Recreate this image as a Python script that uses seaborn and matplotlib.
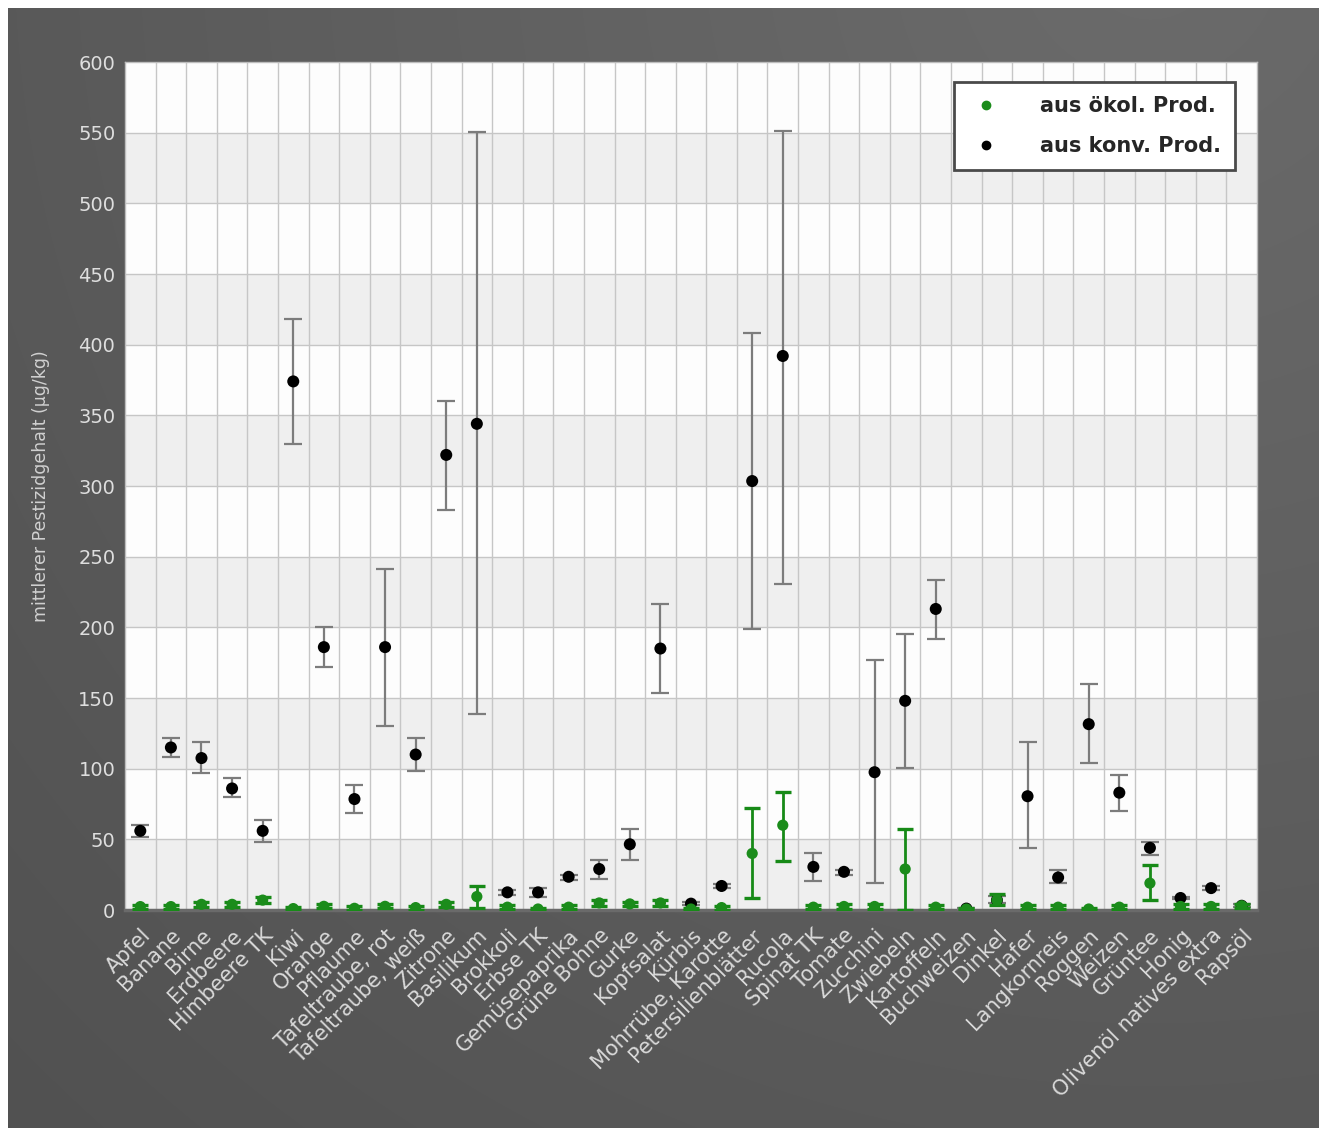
import numpy as np
import pandas as pd
import matplotlib
matplotlib.use("Agg")
import matplotlib.pyplot as plt
import matplotlib.transforms as mtransforms
from matplotlib.lines import Line2D
import seaborn as sns

# Produkte
produkte = [
    "Apfel", "Banane", "Birne", "Erdbeere", "Himbeere TK", "Kiwi", "Orange",
    "Pflaume", "Tafeltraube, rot", "Tafeltraube, weiß", "Zitrone", "Basilikum",
    "Brokkoli", "Erbse TK", "Gemüsepaprika", "Grüne Bohne", "Gurke", "Kopfsalat",
    "Kürbis", "Mohrrübe, Karotte", "Petersilienblätter", "Rucola", "Spinat TK",
    "Tomate", "Zucchini", "Zwiebeln", "Kartoffeln", "Buchweizen", "Dinkel",
    "Hafer", "Langkornreis", "Roggen", "Weizen", "Grüntee", "Honig",
    "Olivenöl natives extra", "Rapsöl",
]

# konventionelle Produktion: Mittelwert, untere / obere Grenze (µg/kg)
konv_mittel = [56, 115, 107.5, 86, 56, 374, 186, 78.5, 186, 110, 322, 344,
               12.5, 12.5, 23.5, 29, 46.5, 185, 4.5, 17, 303.5, 392, 30.5,
               27, 97.5, 148, 213, 1, 7, 80.5, 23, 131.5, 83, 44, 8.5, 15.5, 3]
konv_unten = [51.5, 108.5, 97, 80, 48, 330, 172, 68.5, 130, 98.5, 283, 139,
              10.5, 9.5, 21.5, 22, 35.5, 153.5, 3.5, 15.5, 199, 231, 20.5,
              25, 19, 100.5, 191.5, 0.5, 5, 44, 19, 104, 70, 39, 7.5, 14, 2]
konv_oben = [60, 121.5, 119, 93.5, 63.5, 418, 200, 88.5, 241, 121.5, 360, 550.5,
             14.5, 15.5, 25, 35.5, 57, 216.5, 5.5, 18.5, 408, 551, 40,
             28.5, 177, 195, 233.5, 1.5, 10, 119, 28, 160, 95.5, 48, 9.5, 17, 4]

# ökologische Produktion
oeko_mittel = [2.4, 2.4, 4, 4, 7, 1, 2.6, 1.2, 2.6, 1.7, 4, 9.5,
               2, 0.7, 2, 5, 4.3, 5, 0.7, 1.7, 40, 60, 2,
               2.5, 2.5, 29, 2, 0.7, 7, 2, 2, 0.7, 2, 19, 2.5, 2.5, 3]
oeko_unten = [1, 1, 2, 2, 5, 0, 1.2, 0, 1.2, 0.3, 2, 1.5,
              0.6, 0, 0.6, 3, 2.5, 3, 0, 0.3, 8.5, 35, 0.6,
              1, 1, 0, 0.6, 0, 3.5, 0.6, 0.6, 0, 0.6, 7, 1, 1, 1.5]
oeko_oben = [3.8, 3.8, 6, 6, 9.4, 2.2, 4, 2.5, 4, 3.1, 6, 17,
             3.4, 1.7, 3.4, 7, 6, 7, 1.7, 3.1, 72, 83.5, 3.4,
             4, 4, 57, 3.4, 1.7, 11, 3.4, 3.4, 1.7, 3.4, 32, 4, 4, 4.5]

serie_oeko = "aus ökol. Prod."
serie_konv = "aus konv. Prod."

df = pd.concat([
    pd.DataFrame({"Produkt": produkte, "Wert": konv_mittel,
                  "unten": konv_unten, "oben": konv_oben, "Serie": serie_konv}),
    pd.DataFrame({"Produkt": produkte, "Wert": oeko_mittel,
                  "unten": oeko_unten, "oben": oeko_oben, "Serie": serie_oeko}),
], ignore_index=True)

sns.set_style("white")
plt.rcParams["font.family"] = ["DejaVu Sans"]

W, H = 1327, 1135
fig = plt.figure(figsize=(W / 100, H / 100), dpi=100)
fig.patch.set_facecolor("white")

# dunkelgrauer Verlaufshintergrund mit weißem Rand
bg = fig.add_axes([0, 0, 1, 1], zorder=-10)
yy, xx = np.mgrid[0:H, 0:W]
d = np.hypot(xx - 1150, yy + 50) / 1600.0
v = 0.42 - 0.10 * d
img = np.ones((H, W, 3))
panel = (xx >= 8) & (xx <= 1318) & (yy >= 8) & (yy <= 1127)
for c in range(3):
    img[..., c] = np.where(panel, v, 1.0)
bg.imshow(img, aspect="auto", interpolation="bilinear")
bg.set_axis_off()

left, right, top, bottom = 125, 1257, 62, 910
ax = fig.add_axes([left / W, 1 - bottom / H, (right - left) / W, (bottom - top) / H])
ax.set_facecolor("#fdfdfd")

n = len(produkte)
ax.set_xlim(-0.5, n - 0.5)
ax.set_ylim(0, 600)

# abwechselnde Bänder
for y0 in range(0, 600, 100):
    ax.axhspan(y0, y0 + 50, color="#efefef", zorder=0, lw=0)
for y0 in range(50, 600, 50):
    ax.axhline(y0, color="#c6c6c6", lw=1, zorder=1)
for k in range(n - 1):
    ax.axvline(k + 0.5, color="#c6c6c6", lw=1, zorder=1)

pos = np.arange(n)
km = np.array(konv_mittel)
ax.errorbar(pos, km, yerr=[km - np.array(konv_unten), np.array(konv_oben) - km],
            fmt="none", ecolor="#7c7c7c", elinewidth=1.6, capsize=6.5,
            capthick=1.6, zorder=3)
sns.scatterplot(data=df[df["Serie"] == serie_konv], x="Produkt", y="Wert",
                color="black", s=75, edgecolor="none", ax=ax, zorder=4,
                legend=False)

om = np.array(oeko_mittel)
ax.errorbar(pos, om, yerr=[om - np.array(oeko_unten), np.array(oeko_oben) - om],
            fmt="none", ecolor="#178a17", elinewidth=2, capsize=6,
            capthick=2.4, zorder=5)
sns.scatterplot(data=df[df["Serie"] == serie_oeko], x="Produkt", y="Wert",
                color="#1b8c1b", s=65, edgecolor="none", ax=ax, zorder=6,
                legend=False)

ax.set_xlim(-0.5, n - 0.5)
ax.set_ylim(0, 600)
ax.set_yticks(np.arange(0, 601, 50))
ax.set_xticks(pos)
ax.set_xticklabels(produkte, rotation=45, ha="right", va="top",
                   rotation_mode="anchor", fontsize=15, color="#d9d9d9")
shift = mtransforms.ScaledTranslation(-6 / 100, 0, fig.dpi_scale_trans)
for lab in ax.get_xticklabels():
    lab.set_transform(lab.get_transform() + shift)
ax.tick_params(axis="y", labelsize=14, labelcolor="#dedede", length=0, pad=7)
ax.tick_params(axis="x", length=0, pad=11)
ax.set_xlabel("")
ax.set_ylabel("mittlerer Pestizidgehalt (µg/kg)", fontsize=12.5, color="#d0d0d0")
ax.yaxis.set_label_coords(-0.066, 0.5)

for side in ["top", "right", "left"]:
    ax.spines[side].set_color("#bdbdbd")
    ax.spines[side].set_linewidth(1)
ax.spines["bottom"].set_color("#6a6a6a")
ax.spines["bottom"].set_linewidth(2.5)

handles = [
    Line2D([], [], ls="none", marker="o", color="#1b8c1b", markersize=6),
    Line2D([], [], ls="none", marker="o", color="black", markersize=6),
]
leg = ax.legend(handles, [serie_oeko, serie_konv], loc="upper right",
                bbox_to_anchor=(0.981, 0.977), frameon=True, fancybox=False,
                prop={"weight": "bold", "size": 15}, handletextpad=1.8,
                borderpad=0.7, labelspacing=0.95, handlelength=1.6,
                borderaxespad=0)
leg.get_frame().set_edgecolor("#4a4a4a")
leg.get_frame().set_linewidth(2)
leg.get_frame().set_facecolor("white")
leg.get_frame().set_alpha(1)
leg.set_zorder(10)

fig.savefig("out.png", dpi=100)
